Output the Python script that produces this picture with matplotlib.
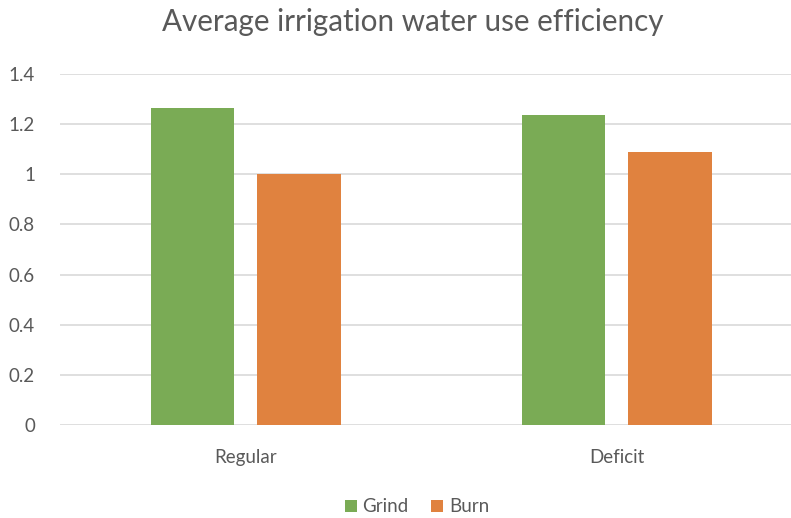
import numpy as np
import matplotlib.pyplot as plt

# dados
categorias = ['Regular', 'Deficit']
grind = [1.263, 1.235]
burn = [1.0, 1.088]
yticks = [0, 0.2, 0.4, 0.6, 0.8, 1.0, 1.2, 1.4]
ytick_labels = ['0', '0.2', '0.4', '0.6', '0.8', '1', '1.2', '1.4']

plt.rcParams['font.family'] = ['Lato', 'DejaVu Sans']
cinza = '#595959'

fig = plt.figure(figsize=(7.91, 5.18), dpi=100)
ax = fig.add_axes([60/791, 1 - 425/518, 1 - 60/791, (425 - 74)/518])

x = np.arange(len(categorias))
largura = 0.224
ax.bar(x - 0.144, grind, largura, color='#7aab55', label='Grind', zorder=3)
ax.bar(x + 0.144, burn, largura, color='#e0823f', label='Burn', zorder=3)

ax.set_xlim(-0.5, 1.47)
ax.set_ylim(0, 1.4)
ax.set_yticks(yticks)
ax.set_yticklabels(ytick_labels)
ax.set_xticks(x)
ax.set_xticklabels(categorias)
ax.tick_params(axis='both', length=0, labelsize=13.5, colors=cinza)
ax.tick_params(axis='x', pad=17)
ax.tick_params(axis='y', pad=18)
ax.grid(axis='y', color='#d9d9d9', linewidth=1.2, zorder=0)
for s in ax.spines.values():
    s.set_visible(False)

fig.text(413/791, 1 - 22/518, 'Average irrigation water use efficiency',
         ha='center', va='center', fontsize=21.3, color=cinza)

fig.legend(loc='center', bbox_to_anchor=(417/791, 1 - 507/518), ncol=2,
           frameon=False, fontsize=13.5, handlelength=0.65, handleheight=0.65,
           handletextpad=0.3, columnspacing=1.2, labelcolor=cinza)

plt.savefig('out.png', dpi=100)
